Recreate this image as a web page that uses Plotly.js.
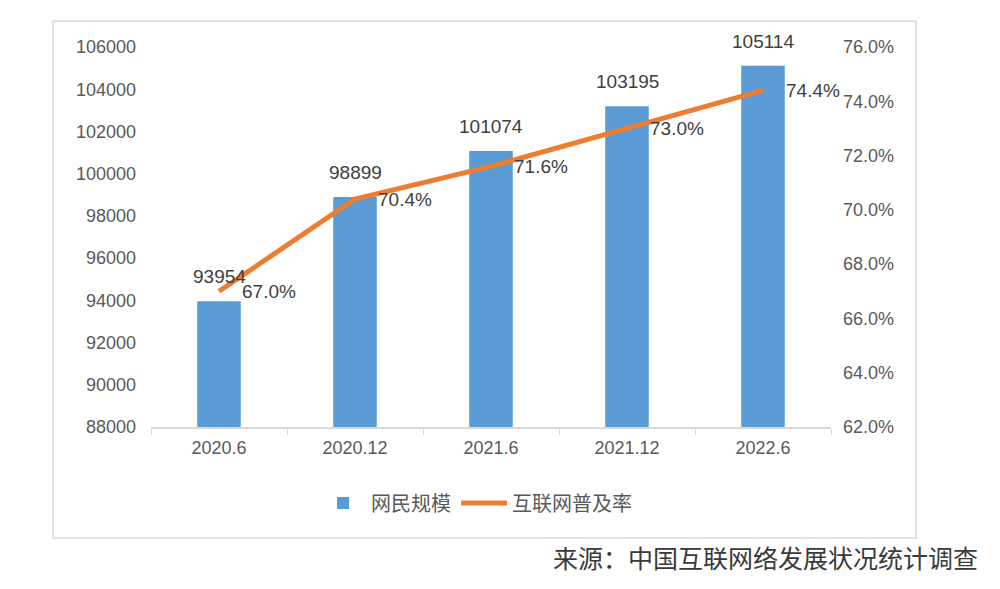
<!DOCTYPE html>
<html>
<head>
<meta charset="utf-8">
<script src="https://cdn.plot.ly/plotly-3.0.1.min.js"></script>
<style>
  html, body { margin: 0; padding: 0; background: #fff; }
  #chart { width: 1000px; height: 589px; }
</style>
</head>
<body>
<div id="chart"></div>
<script>
// 网民规模（万人）与互联网普及率
const periods = ['2020.6', '2020.12', '2021.6', '2021.12', '2022.6']
const users = [93954, 98899, 101074, 103195, 105114]
const rate = [67.0, 70.4, 71.6, 73.0, 74.4]

const gray = '#595959'
const font = 'Liberation Sans, Arial, sans-serif'
const labelFont = { family: font, size: 19, color: '#404040' }

const barTrace = {
  x: periods,
  y: users,
  type: 'bar',
  name: '网民规模',
  marker: { color: '#5B9BD5' },
  width: 0.32,
  hoverinfo: 'x+y'
}

const lineTrace = {
  x: periods,
  y: rate,
  type: 'scatter',
  mode: 'lines',
  name: '互联网普及率',
  yaxis: 'y2',
  line: { color: '#ED7D31', width: 5 }
}

// data labels; on a category axis the position of category i is i
const barLabels = periods.map((p, i) => ({
  x: i, y: users[i], xref: 'x', yref: 'y',
  text: String(users[i]),
  showarrow: false,
  yanchor: 'bottom',
  yshift: 12,
  font: labelFont
}))

const rateLabels = periods.map((p, i) => ({
  x: i, y: rate[i], xref: 'x', yref: 'y2',
  text: rate[i].toFixed(1) + '%',
  showarrow: false,
  xanchor: 'left',
  yanchor: 'middle',
  xshift: 21,
  font: labelFont
}))

const layout = {
  width: 1000,
  height: 589,
  margin: { l: 151, r: 169, t: 47, b: 162 },
  paper_bgcolor: '#fff',
  plot_bgcolor: 'rgba(0,0,0,0)',
  font: { family: font, color: gray },
  showlegend: true,
  xaxis: {
    type: 'category',
    range: [-0.5, periods.length - 0.5],
    showline: true,
    linecolor: '#d9d9d9',
    linewidth: 1.5,
    ticks: 'outside',
    tickson: 'boundaries',
    ticklen: 6,
    tickcolor: '#d9d9d9',
    tickfont: { size: 18, color: gray },
    ticklabelstandoff: 4,
    showgrid: false,
    zeroline: false,
    fixedrange: true
  },
  yaxis: {
    range: [88000, 106000],
    dtick: 2000,
    tickformat: 'd',
    showgrid: false,
    zeroline: false,
    showline: false,
    tickfont: { size: 18, color: gray },
    ticklabelstandoff: 14,
    fixedrange: true
  },
  yaxis2: {
    overlaying: 'y',
    side: 'right',
    range: [62, 76],
    dtick: 2,
    tickformat: '.1f',
    ticksuffix: '%',
    showgrid: false,
    zeroline: false,
    showline: false,
    tickfont: { size: 18, color: gray },
    ticklabelstandoff: 11,
    fixedrange: true
  },
  legend: {
    orientation: 'h',
    x: 0.478,
    xanchor: 'center',
    y: -0.2,
    yanchor: 'middle',
    font: { family: 'Noto Sans CJK SC, sans-serif', size: 20, color: gray },
    itemwidth: 46,
    tracegroupgap: 0
  },
  shapes: [{
    type: 'rect',
    xref: 'paper', yref: 'paper',
    x0: -0.144, x1: 1.125, y0: -0.292, y1: 1.068,
    line: { color: '#d9d9d9', width: 1.5 },
    fillcolor: 'rgba(0,0,0,0)',
    layer: 'below'
  }],
  annotations: barLabels.concat(rateLabels, [{
    xref: 'paper', yref: 'paper',
    x: 1.219, y: -0.342,
    xanchor: 'right', yanchor: 'middle',
    text: '来源：中国互联网络发展状况统计调查',
    showarrow: false,
    font: { family: 'Noto Sans CJK SC, sans-serif', size: 25, color: '#3a3a3a' }
  }])
}

Plotly.newPlot('chart', [barTrace, lineTrace], layout, { displayModeBar: false, staticPlot: true })
</script>
</body>
</html>
